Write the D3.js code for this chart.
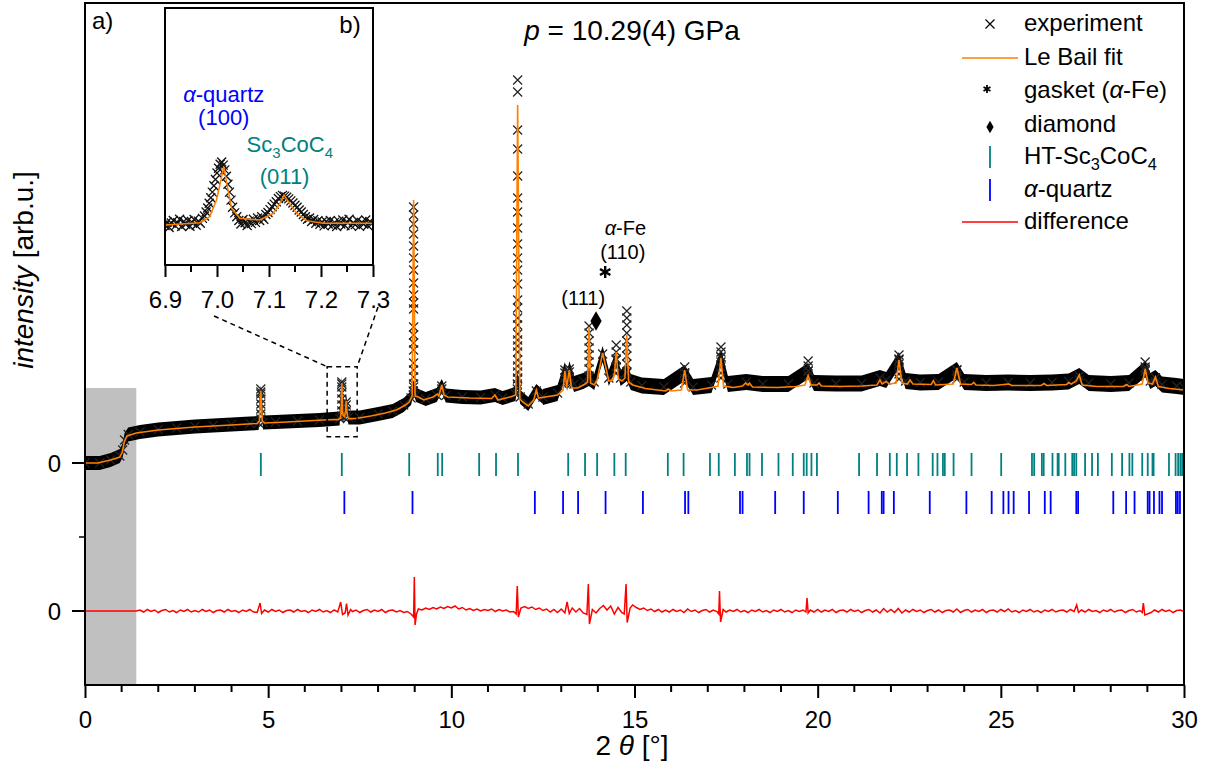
<!DOCTYPE html>
<html>
<head>
<meta charset="utf-8">
<script src="https://cdn.jsdelivr.net/npm/d3@7"></script>
<style>
  body { margin: 0; background: #fff; }
  svg text { font-family: "Liberation Sans", Arial, sans-serif; fill: #000; }
</style>
</head>
<body>
<svg id="chart" width="1211" height="772"></svg>
<script>
// --- data (2theta in degrees, intensity in arb. units) ---
const fitPts = [[0,0],[0.35,0],[0.7,30],[0.95,60],[1.02,110],[1.07,210],[1.15,270],[1.4,300],[2,330],[3,360],[4,380],[4.7,395],[4.76,420],[4.8,720],[4.84,420],[4.9,400],[5.5,410],[6,420],[6.5,430],[6.8,435],[6.9,434],[6.967,448],[6.986,486],[6.999,591],[7.009,737],[7.013,800],[7.02,675],[7.028,539],[7.044,476],[7.082,465],[7.108,507],[7.121,570],[7.129,622],[7.137,580],[7.153,507],[7.172,461],[7.204,444],[7.3,444],[7.4,445],[7.8,470],[8.2,500],[8.5,530],[8.75,580],[8.85,610],[8.93,670],[8.97,2630],[9.01,670],[9.1,660],[9.25,630],[9.5,660],[9.62,690],[9.66,670],[9.74,780],[9.8,680],[9.9,660],[10.5,650],[11.1,645],[11.19,680],[11.27,630],[11.6,660],[11.76,680],[11.81,3580],[11.87,640],[11.95,610],[12.1,570],[12.25,630],[12.32,730],[12.38,650],[12.9,680],[13.05,730],[13.1,920],[13.15,760],[13.22,930],[13.28,750],[13.45,750],[13.65,790],[13.72,810],[13.76,1350],[13.8,800],[13.9,780],[13.98,830],[14.13,1100],[14.3,820],[14.4,830],[14.45,880],[14.5,1110],[14.56,840],[14.66,820],[14.74,850],[14.79,1280],[14.84,810],[14.95,780],[15.3,745],[15.85,720],[15.92,740],[16,720],[16.28,730],[16.37,930],[16.45,730],[16.7,730],[17.1,755],[17.28,770],[17.36,1050],[17.43,770],[17.7,755],[17.95,770],[18.03,800],[18.1,780],[18.14,800],[18.22,760],[18.9,755],[19.4,765],[19.65,780],[19.74,875],[19.82,780],[19.98,780],[20.04,800],[20.1,770],[20.6,765],[21.2,770],[21.62,780],[21.7,830],[21.76,790],[21.87,815],[21.95,790],[22.14,800],[22.22,1030],[22.3,800],[22.45,790],[22.52,830],[22.6,790],[23.1,785],[23.16,823],[23.22,780],[23.7,790],[23.8,950],[23.9,790],[24.2,785],[24.26,805],[24.32,780],[24.8,775],[25.22,790],[25.3,775],[26.1,775],[26.18,795],[26.25,775],[26.8,785],[26.85,805],[26.92,790],[27.06,820],[27.14,880],[27.22,780],[27.62,765],[28.35,765],[28.43,785],[28.5,765],[28.86,790],[28.94,940],[29.02,800],[29.14,790],[29.22,860],[29.3,765],[29.6,745],[30,730]];

// dense part of the measured pattern (the black band)
const expBand = [[0,0],[0.4,0],[0.7,30],[0.95,70],[1.03,130],[1.08,230],[1.18,285],[1.5,310],[2,335],[2.5,350],[3,365],[3.5,375],[4,385],[4.5,395],[4.74,400],[4.8,710],[4.86,405],[5.2,410],[5.8,420],[6.4,430],[6.95,445],[7.01,790],[7.06,460],[7.13,610],[7.19,455],[7.5,455],[8,490],[8.4,520],[8.7,580],[8.9,650],[8.97,760],[9.04,680],[9.3,640],[9.6,680],[9.74,770],[9.85,675],[10.3,660],[10.8,655],[11.19,680],[11.4,650],[11.75,690],[11.81,840],[11.88,660],[12.1,590],[12.32,720],[12.5,660],[12.9,700],[13.1,930],[13.16,800],[13.22,940],[13.35,790],[13.6,820],[13.76,850],[13.9,810],[14.13,1090],[14.3,850],[14.5,1040],[14.62,850],[14.79,900],[14.9,810],[15.2,775],[15.8,760],[16.37,900],[16.6,760],[17.1,780],[17.36,1060],[17.55,790],[18.05,810],[18.5,790],[19.2,790],[19.74,920],[19.9,800],[20.5,795],[21.2,795],[21.7,850],[21.87,830],[22.22,1030],[22.4,820],[22.8,805],[23.3,810],[23.8,930],[24,810],[24.6,800],[25.2,805],[25.8,800],[26.4,805],[26.85,815],[27.14,870],[27.4,800],[28,790],[28.5,800],[28.94,940],[29.08,820],[29.22,850],[29.4,785],[29.8,770],[30,760]];

// individual measured points on the reflections
const expSparse = [
  [8.97,2560],[8.97,2480],[8.97,2390],[8.97,2290],[8.97,2170],[8.97,2050],[8.97,1930],[8.97,1800],[8.97,1680],[8.97,1600],[8.97,1540],[8.97,1360],[8.97,1280],[8.97,1200],[8.97,1130],[8.97,1000],[8.97,930],[8.97,860],[8.97,790],[8.96,720],[8.96,680],
  [11.81,3830],[11.81,3710],[11.81,3330],[11.81,3140],[11.81,2870],[11.81,2650],[11.81,2510],[11.81,2350],[11.81,2190],[11.81,2050],[11.81,1930],[11.81,1790],[11.81,1630],[11.81,1550],[11.81,1450],[11.81,1380],[11.81,1290],[11.81,1230],[11.81,1170],[11.81,1110],[11.81,1030],[11.81,970],[11.81,910],[11.81,850],[11.8,790],[11.8,740],[11.8,700],
  [13.76,1370],[13.76,1300],[13.76,1220],[13.76,1150],[13.76,1080],[13.76,1010],[13.76,940],[13.76,870],
  [14.79,1520],[14.79,1450],[14.79,1380],[14.79,1300],[14.79,1220],[14.79,1150],[14.79,1070],[14.79,990],[14.79,910],
  [14.5,1180],[14.5,1110],[14.5,1030],[14.5,960],[14.5,900],
  [4.8,740],[4.8,690],[4.8,640],[4.8,590],[4.8,540],[4.8,490],[4.8,440],
  [7.01,810],[7.01,760],[7.01,700],[7.01,640],[7.01,580],[7.01,520],[7.01,470],[7.13,580],[7.13,520],[7.13,470],
  [9.74,740],[9.74,700],[13.1,900],[13.1,850],[13.1,800],[13.22,910],[13.22,850],[13.22,800],
  [16.37,960],[16.37,900],[16.37,850],[16.37,800],
  [17.36,1160],[17.36,1110],[17.36,1060],[17.36,1010],[17.36,960],[17.36,900],[17.36,850],
  [19.74,1020],[19.74,970],[19.74,920],[19.74,870],
  [22.22,1080],[22.22,1040],[22.22,990],[22.22,940],[22.22,890],[22.22,840],
  [23.8,930],[23.8,880],[23.8,840],[27.14,870],[27.14,830],
  [28.94,1010],[28.94,960],[28.94,920],[28.94,870],[29.22,850],[29.22,810]
];

// measured points shown in the inset b)
const insetExp = [[6.9,430],[6.904,452],[6.908,418],[6.912,446],[6.916,462],[6.92,428],[6.924,448],[6.928,470],[6.932,424],[6.936,455],[6.94,438],[6.944,462],[6.948,426],[6.952,450],[6.956,468],[6.96,432],[6.964,458],[6.968,445],[6.972,475],[6.976,490],[6.979,515],[6.982,540],[6.985,570],[6.988,605],[6.991,640],[6.994,680],[6.997,720],[7,760],[7.003,790],[7.006,815],[7.009,830],[7.012,810],[7.015,780],[7.018,740],[7.021,690],[7.024,640],[7.027,590],[7.03,545],[7.034,510],[7.038,485],[7.042,462],[7.046,440],[7.05,468],[7.054,448],[7.058,430],[7.062,458],[7.066,442],[7.07,470],[7.074,450],[7.078,478],[7.082,462],[7.086,485],[7.09,470],[7.094,500],[7.098,512],[7.102,530],[7.106,548],[7.11,565],[7.114,580],[7.118,600],[7.122,612],[7.126,620],[7.13,615],[7.134,608],[7.138,598],[7.142,585],[7.146,572],[7.15,558],[7.154,545],[7.158,528],[7.162,515],[7.166,500],[7.17,485],[7.174,470],[7.178,478],[7.182,455],[7.186,468],[7.19,445],[7.194,460],[7.198,438],[7.202,452],[7.206,428],[7.21,456],[7.214,440],[7.218,462],[7.222,432],[7.226,450],[7.23,424],[7.234,458],[7.238,440],[7.242,465],[7.246,430],[7.25,452],[7.254,470],[7.258,428],[7.262,448],[7.266,436],[7.27,462],[7.274,425],[7.278,450],[7.282,440],[7.286,465],[7.29,430],[7.294,455],[7.298,442]];

// difference curve (observed - calculated)
const diffPts = [[0,0],[1.4,0],[1.5,10],[1.6,-10],[1.7,15],[1.8,-5],[1.9,10],[2,-15],[2.1,5],[2.2,15],[2.3,-10],[2.4,5],[2.5,-15],[2.6,10],[2.7,-5],[2.8,15],[2.9,-10],[3,5],[3.1,-10],[3.2,15],[3.3,-5],[3.4,10],[3.5,-15],[3.6,5],[3.7,10],[3.8,-10],[3.9,15],[4,-5],[4.1,5],[4.2,-15],[4.3,10],[4.4,-5],[4.5,15],[4.6,-10],[4.7,-15],[4.78,80],[4.82,-25],[4.9,10],[5,-10],[5.1,15],[5.2,-5],[5.3,10],[5.4,-15],[5.5,5],[5.6,10],[5.7,-10],[5.8,15],[5.9,-5],[6,5],[6.1,-15],[6.2,10],[6.3,-5],[6.4,15],[6.5,-10],[6.6,5],[6.7,-15],[6.8,10],[6.9,-10],[6.98,90],[7.03,-35],[7.1,-20],[7.14,75],[7.18,-40],[7.25,15],[7.3,-5],[7.4,10],[7.5,-15],[7.6,5],[7.7,15],[7.8,-10],[7.9,10],[8,-5],[8.1,15],[8.2,-15],[8.3,5],[8.4,10],[8.5,-10],[8.6,5],[8.7,-15],[8.8,-5],[8.9,-30],[8.97,-60],[8.99,340],[9.01,-140],[9.05,-30],[9.1,20],[9.2,10],[9.3,30],[9.4,15],[9.5,35],[9.6,20],[9.7,40],[9.8,25],[9.9,45],[10,30],[10.1,50],[10.2,20],[10.3,35],[10.4,10],[10.5,25],[10.6,5],[10.7,20],[10.8,0],[10.9,15],[11,5],[11.1,20],[11.2,-5],[11.3,15],[11.4,0],[11.5,10],[11.6,-10],[11.7,-5],[11.77,-30],[11.8,250],[11.83,-60],[11.9,30],[12,45],[12.1,25],[12.2,40],[12.3,15],[12.4,30],[12.5,5],[12.6,20],[12.7,-10],[12.8,15],[12.9,-15],[13,20],[13.1,-20],[13.16,90],[13.22,-25],[13.3,30],[13.4,-10],[13.5,25],[13.6,-20],[13.7,-35],[13.74,270],[13.77,-130],[13.85,15],[13.95,-20],[14.05,25],[14.15,55],[14.25,10],[14.35,50],[14.45,-30],[14.55,35],[14.65,-15],[14.72,-30],[14.77,270],[14.8,-115],[14.88,30],[14.95,60],[15.05,35],[15.15,15],[15.25,30],[15.35,5],[15.45,20],[15.55,-5],[15.65,15],[15.75,-10],[15.85,10],[15.95,-10],[16.05,15],[16.15,-5],[16.25,10],[16.35,-15],[16.45,20],[16.55,-5],[16.65,10],[16.75,-15],[16.85,5],[16.95,15],[17.05,-10],[17.15,10],[17.25,-5],[17.3,-30],[17.32,200],[17.35,-110],[17.42,15],[17.5,-10],[17.6,10],[17.7,-5],[17.8,15],[17.9,-10],[18,5],[18.1,-15],[18.2,10],[18.3,-5],[18.4,15],[18.5,-10],[18.6,5],[18.7,-15],[18.8,10],[18.9,-5],[19,15],[19.1,-10],[19.2,5],[19.3,-15],[19.4,10],[19.5,-5],[19.6,10],[19.68,-10],[19.71,130],[19.74,-20],[19.8,10],[19.9,-10],[20,15],[20.1,-10],[20.2,10],[20.3,-5],[20.4,15],[20.5,-15],[20.6,5],[20.7,10],[20.8,-10],[20.9,15],[21,-5],[21.1,10],[21.2,-15],[21.3,5],[21.4,15],[21.5,-10],[21.6,10],[21.7,-20],[21.8,25],[21.9,-10],[22,15],[22.1,-15],[22.2,25],[22.3,-20],[22.4,10],[22.5,-10],[22.6,15],[22.7,-5],[22.8,10],[22.9,-15],[23,5],[23.1,15],[23.2,-10],[23.3,10],[23.4,-15],[23.5,5],[23.6,10],[23.7,-10],[23.8,20],[23.9,-15],[24,5],[24.1,15],[24.2,-10],[24.3,10],[24.4,-5],[24.5,15],[24.6,-15],[24.7,5],[24.8,10],[24.9,-10],[25,15],[25.1,-5],[25.2,20],[25.3,-10],[25.4,5],[25.5,-15],[25.6,10],[25.7,-5],[25.8,15],[25.9,-10],[26,5],[26.1,-15],[26.2,10],[26.3,-5],[26.4,15],[26.5,-10],[26.6,5],[26.7,10],[26.8,-10],[26.9,15],[27,-5],[27.07,60],[27.12,-15],[27.2,10],[27.3,-10],[27.4,15],[27.5,-5],[27.6,5],[27.7,-15],[27.8,10],[27.9,-5],[28,15],[28.1,-10],[28.2,5],[28.3,10],[28.4,-15],[28.5,5],[28.6,15],[28.7,-10],[28.8,5],[28.86,-15],[28.89,80],[28.93,-40],[29,-30],[29.1,-15],[29.2,10],[29.3,-10],[29.4,15],[29.5,-5],[29.6,10],[29.7,-15],[29.8,5],[29.9,10],[30,-5]];

// reflection positions
const htTicks = [4.80,7.01,8.85,9.63,9.75,10.76,11.22,11.82,13.19,13.65,13.98,14.45,14.76,15.91,16.34,17.06,17.30,17.74,18.07,18.14,18.48,18.93,19.32,19.62,19.70,19.83,19.98,21.13,21.62,21.97,22.16,22.44,22.75,23.14,23.27,23.42,23.47,23.71,24.20,25.01,25.85,25.91,26.12,26.17,26.41,26.55,26.58,26.76,26.95,27.00,27.06,27.30,27.49,27.65,28.03,28.31,28.51,28.59,28.86,29.01,29.14,29.17,29.59,29.77,29.84,29.90,29.95];
const quartzTicks = [7.08,8.94,12.28,13.05,13.46,14.21,15.23,16.38,16.47,17.88,17.95,18.84,19.62,20.55,21.39,21.75,21.80,22.08,23.06,24.06,24.75,25.07,25.21,25.35,25.77,26.20,26.36,27.06,27.11,28.07,28.42,28.65,29.01,29.06,29.18,29.33,29.40,29.78,29.83,29.89];

const xTickMajor = [0, 5, 10, 15, 20, 25, 30];
const insetTickMajor = [6.9, 7.0, 7.1, 7.2, 7.3];

// --- layout ---
const ORANGE = "#ff8000", TEAL = "#008080", BLUE = "#0000ff", RED = "#ff0000";
const FS = 24, FS_TITLE = 28;
const diffOffset = -1480;
const htRow = [-130, 100], qRow = [-510, -280];
const svg = d3.select("#chart");

const x = d3.scaleLinear().domain([0, 30]).range([85, 1184]);
const y = d3.scaleLinear().domain([-2220, 4600]).range([685, 3]);
const line = d3.line().x(d => x(d[0])).y(d => y(d[1]));
const crossPath = r => `M${-r},${-r}L${r},${r}M${-r},${r}L${r},${-r}`;
const starPath = r => {
  let p = "";
  [90, 30, 150].forEach(a => {
    const dx = r * Math.cos(a * Math.PI / 180), dy = r * Math.sin(a * Math.PI / 180);
    p += `M${-dx},${-dy}L${dx},${dy}`;
  });
  return p;
};

function rich(text, parts, fs) {
  let shift = 0;
  parts.forEach(([t, st]) => {
    const ts = text.append("tspan").text(t);
    if (st === "i") ts.attr("font-style", "italic");
    if (st === "sub") {
      ts.attr("font-size", fs * 0.68).attr("dy", fs * 0.26 - shift);
      shift = fs * 0.26;
    } else if (shift) {
      ts.attr("dy", -shift);
      shift = 0;
    }
  });
}

svg.append("clipPath").attr("id", "plotClip").append("rect")
  .attr("x", x(0)).attr("y", y(4600)).attr("width", x(30) - x(0)).attr("height", y(-2220) - y(4600));
const plot = svg.append("g").attr("clip-path", "url(#plotClip)");

// grey (excluded) region
plot.append("rect")
  .attr("x", x(0)).attr("y", y(750))
  .attr("width", x(1.4) - x(0)).attr("height", y(-2220) - y(750))
  .attr("fill", "#c0c0c0");

// measured pattern: dense band drawn with a constant vertical thickness
const bandParts = [[expBand.filter(d => d[0] <= 12.5), 7], [expBand.filter(d => d[0] >= 12.5), 8]];
bandParts.forEach(([pts, hw]) => {
  plot.append("path").datum(pts)
    .attr("d", d3.area().x(d => x(d[0])).y0(d => y(d[1]) + hw).y1(d => y(d[1]) - hw))
    .attr("fill", "#000");
});

plot.append("g").selectAll("path").data(expBand.concat(expSparse)).join("path")
  .attr("transform", d => `translate(${x(d[0])},${y(d[1])})`)
  .attr("d", crossPath(4.5))
  .attr("stroke", "#222").attr("stroke-width", 1.2).attr("fill", "none");

// Le Bail fit
plot.append("path").datum(fitPts).attr("d", line)
  .attr("fill", "none").attr("stroke", ORANGE).attr("stroke-width", 1.6);

// reflection markers
plot.append("g").selectAll("line").data(htTicks).join("line")
  .attr("x1", d => x(d)).attr("x2", d => x(d))
  .attr("y1", y(htRow[0])).attr("y2", y(htRow[1]))
  .attr("stroke", TEAL).attr("stroke-width", 1.8);
plot.append("g").selectAll("line").data(quartzTicks).join("line")
  .attr("x1", d => x(d)).attr("x2", d => x(d))
  .attr("y1", y(qRow[0])).attr("y2", y(qRow[1]))
  .attr("stroke", BLUE).attr("stroke-width", 1.8);

// difference
plot.append("path").datum(diffPts)
  .attr("d", d3.line().x(d => x(d[0])).y(d => y(d[1] + diffOffset)))
  .attr("fill", "none").attr("stroke", RED).attr("stroke-width", 1.5);

// frame
svg.append("rect")
  .attr("x", x(0)).attr("y", y(4600)).attr("width", x(30) - x(0)).attr("height", y(-2220) - y(4600))
  .attr("fill", "none").attr("stroke", "#000").attr("stroke-width", 2);

// x axis
const xAxis = svg.append("g").attr("transform", `translate(0,${y(-2220)})`)
  .call(d3.axisBottom(x).tickValues(xTickMajor).tickSize(13).tickSizeOuter(0).tickFormat(d3.format("d")));
xAxis.select(".domain").remove();
xAxis.selectAll(".tick line").attr("stroke-width", 2);
xAxis.selectAll(".tick text").attr("font-size", FS).attr("y", 43).attr("dy", 0)
  .attr("font-family", "Liberation Sans, Arial, sans-serif").attr("fill", "#000");
svg.append("g").selectAll("line").data(d3.range(1, 30).filter(v => v % 5)).join("line")
  .attr("x1", d => x(d)).attr("x2", d => x(d))
  .attr("y1", y(-2220)).attr("y2", y(-2220) + 7)
  .attr("stroke", "#000").attr("stroke-width", 2);

const xl = svg.append("text").attr("x", 632).attr("y", 755)
  .attr("text-anchor", "middle").attr("font-size", FS_TITLE);
rich(xl, [["2 "], ["θ", "i"], [" [°]"]], FS_TITLE);

// y axis (two zero lines)
svg.append("g").selectAll("line").data([0, diffOffset]).join("line")
  .attr("x1", x(0) - 13).attr("x2", x(0)).attr("y1", d => y(d)).attr("y2", d => y(d))
  .attr("stroke", "#000").attr("stroke-width", 2);
svg.append("line")
  .attr("x1", x(0) - 6).attr("x2", x(0)).attr("y1", y(diffOffset / 2)).attr("y2", y(diffOffset / 2))
  .attr("stroke", "#000").attr("stroke-width", 1.5);
svg.append("g").selectAll("text").data([0, diffOffset]).join("text")
  .attr("x", 61).attr("y", d => y(d)).attr("dy", "0.36em")
  .attr("text-anchor", "end").attr("font-size", FS).text("0");

const yl = svg.append("text").attr("transform", "translate(33,270) rotate(-90)")
  .attr("text-anchor", "middle").attr("font-size", FS_TITLE);
rich(yl, [["intensity", "i"], [" [arb.u.]"]], FS_TITLE);

// labels in the main panel
svg.append("text").attr("x", 92).attr("y", 29).attr("font-size", FS).text("a)");
const title = svg.append("text").attr("x", 632).attr("y", 40).attr("text-anchor", "middle").attr("font-size", FS_TITLE);
rich(title, [["p", "i"], [" = 10.29(4) GPa"]], FS_TITLE);

// reflection annotations
svg.append("path").attr("d", d3.symbol(d3.symbolDiamond, 110)())
  .attr("transform", `translate(${x(13.95)},${y(1420)})`).attr("fill", "#000");
svg.append("text").attr("x", x(13.6)).attr("y", y(1580)).attr("text-anchor", "middle")
  .attr("font-size", 20).text("(111)");
svg.append("path").attr("d", starPath(6))
  .attr("transform", `translate(${x(14.2)},${y(1910)})`)
  .attr("stroke", "#000").attr("stroke-width", 2.4);
svg.append("text").attr("x", x(14.68)).attr("y", y(2040)).attr("text-anchor", "middle")
  .attr("font-size", 20).text("(110)");
const feT = svg.append("text").attr("x", x(14.75)).attr("y", y(2280)).attr("text-anchor", "middle").attr("font-size", 20);
rich(feT, [["α", "i"], ["-Fe"]], 20);

// zoom box and connectors
svg.append("rect")
  .attr("x", x(6.61)).attr("y", y(963)).attr("width", x(7.43) - x(6.61)).attr("height", y(263) - y(963))
  .attr("fill", "none").attr("stroke", "#000").attr("stroke-width", 1.5).attr("stroke-dasharray", "5,4");
svg.append("line").attr("x1", 214).attr("y1", 316).attr("x2", x(6.61)).attr("y2", y(963))
  .attr("stroke", "#000").attr("stroke-width", 1.5).attr("stroke-dasharray", "5,4");
svg.append("line").attr("x1", 378).attr("y1", 307).attr("x2", x(7.43)).attr("y2", y(963))
  .attr("stroke", "#000").attr("stroke-width", 1.5).attr("stroke-dasharray", "5,4");

// --- inset b) ---
const xi = d3.scaleLinear().domain([6.9, 7.3]).range([165, 373]);
const yi = d3.scaleLinear().domain([182, 1798]).range([265, 8]);
const inset = svg.append("g");
inset.append("rect").attr("x", 165).attr("y", 8).attr("width", 208).attr("height", 257).attr("fill", "#fff");
svg.append("clipPath").attr("id", "insetClip").append("rect")
  .attr("x", 165).attr("y", 8).attr("width", 208).attr("height", 257);
const ic = inset.append("g").attr("clip-path", "url(#insetClip)");
ic.append("g").selectAll("path").data(insetExp).join("path")
  .attr("transform", d => `translate(${xi(d[0])},${yi(d[1])})`)
  .attr("d", crossPath(4.5))
  .attr("stroke", "#111").attr("stroke-width", 1.3).attr("fill", "none");
ic.append("path").datum(fitPts.filter(d => d[0] >= 6.8 && d[0] <= 7.4))
  .attr("d", d3.line().x(d => xi(d[0])).y(d => yi(d[1])))
  .attr("fill", "none").attr("stroke", ORANGE).attr("stroke-width", 1.5);
inset.append("rect").attr("x", 165).attr("y", 8).attr("width", 208).attr("height", 257)
  .attr("fill", "none").attr("stroke", "#000").attr("stroke-width", 2);

const iAxis = inset.append("g").attr("transform", "translate(0,265)")
  .call(d3.axisBottom(xi).tickValues(insetTickMajor).tickSize(12).tickSizeOuter(0).tickFormat(d3.format(".1f")));
iAxis.select(".domain").remove();
iAxis.selectAll(".tick line").attr("stroke-width", 2);
iAxis.selectAll(".tick text").attr("font-size", FS).attr("y", 43).attr("dy", 0)
  .attr("font-family", "Liberation Sans, Arial, sans-serif").attr("fill", "#000");
inset.append("g").selectAll("line").data([6.95, 7.05, 7.15, 7.25]).join("line")
  .attr("x1", d => xi(d)).attr("x2", d => xi(d)).attr("y1", 265).attr("y2", 272)
  .attr("stroke", "#000").attr("stroke-width", 2);
inset.append("text").attr("x", 350).attr("y", 33).attr("text-anchor", "middle").attr("font-size", FS).text("b)");

const qT = inset.append("text").attr("x", xi(7.013)).attr("y", yi(1210)).attr("text-anchor", "middle")
  .attr("font-size", 22).style("fill", BLUE);
rich(qT, [["α", "i"], ["-quartz"]], 22);
inset.append("text").attr("x", xi(7.013)).attr("y", yi(1060)).attr("text-anchor", "middle")
  .attr("font-size", 22).style("fill", BLUE).text("(100)");
const sT = inset.append("text").attr("x", xi(7.14)).attr("y", yi(890)).attr("text-anchor", "middle")
  .attr("font-size", 22).style("fill", TEAL);
rich(sT, [["Sc"], ["3", "sub"], ["CoC"], ["4", "sub"]], 22);
inset.append("text").attr("x", xi(7.13)).attr("y", yi(690)).attr("text-anchor", "middle")
  .attr("font-size", 22).style("fill", TEAL).text("(011)");

// --- legend ---
const legendItems = [
  { sym: "cross", parts: [["experiment"]] },
  { sym: "line", color: ORANGE, parts: [["Le Bail fit"]] },
  { sym: "star", parts: [["gasket ("], ["α", "i"], ["-Fe)"]] },
  { sym: "diamond", parts: [["diamond"]] },
  { sym: "tick", color: TEAL, parts: [["HT-Sc"], ["3", "sub"], ["CoC"], ["4", "sub"]] },
  { sym: "tick", color: BLUE, parts: [["α", "i"], ["-quartz"]] },
  { sym: "line", color: RED, parts: [["difference"]] }
];
const legendRowY = [24, 58, 91, 125, 157, 190, 222];
const lg = svg.append("g");
legendItems.forEach((it, i) => {
  const cy = legendRowY[i], cx = 990;
  if (it.sym === "cross") {
    lg.append("path").attr("d", crossPath(4.5)).attr("transform", `translate(${cx},${cy})`)
      .attr("stroke", "#000").attr("stroke-width", 1.2);
  } else if (it.sym === "line") {
    lg.append("line").attr("x1", 962).attr("x2", 1018).attr("y1", cy).attr("y2", cy)
      .attr("stroke", it.color).attr("stroke-width", 1.5);
  } else if (it.sym === "star") {
    lg.append("path").attr("d", starPath(4)).attr("transform", `translate(${cx - 3},${cy - 2})`)
      .attr("stroke", "#000").attr("stroke-width", 1.8);
  } else if (it.sym === "diamond") {
    lg.append("path").attr("d", d3.symbol(d3.symbolDiamond, 45)()).attr("transform", `translate(${cx},${cy + 2})`)
      .attr("fill", "#000");
  } else if (it.sym === "tick") {
    lg.append("line").attr("x1", cx).attr("x2", cx).attr("y1", cy - 11).attr("y2", cy + 11)
      .attr("stroke", it.color).attr("stroke-width", 1.8);
  }
  const t = lg.append("text").attr("x", 1024).attr("y", cy).attr("dy", "0.3em").attr("font-size", FS);
  rich(t, it.parts, FS);
});
</script>
</body>
</html>
